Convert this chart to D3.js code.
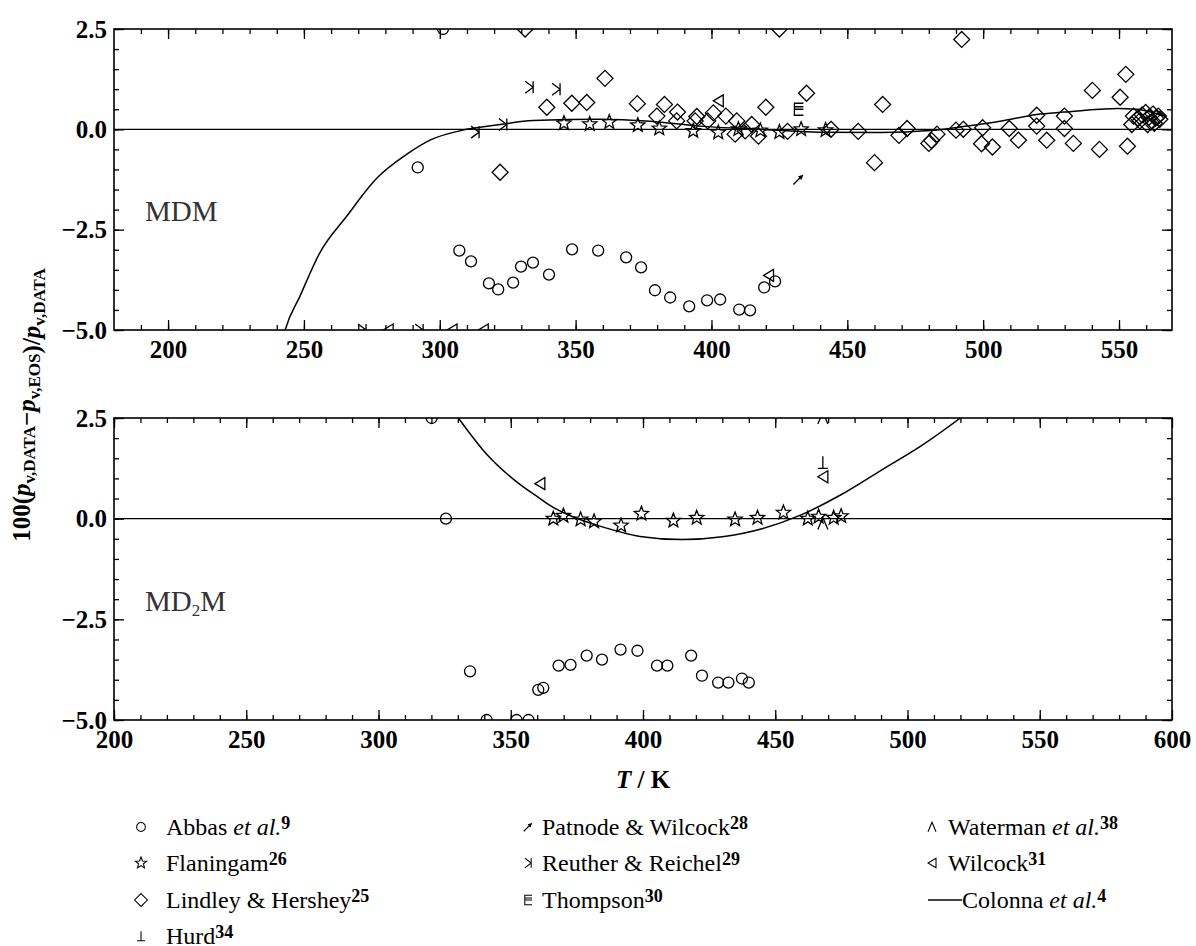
<!DOCTYPE html>
<html>
<head>
<meta charset="utf-8">
<script src="https://cdn.jsdelivr.net/npm/d3@7"></script>
<style>
  body { margin: 0; background: #fff; }
  svg { font-family: "Liberation Serif", "Times New Roman", serif; }
  .axis text { font-family: "Liberation Serif", serif; font-size: 25px; font-weight: bold; fill: #000; }
  .axis line { stroke: #000; stroke-width: 1.3; }
  .axis .domain { display: none; }
  .mk { fill: none; stroke: #000; stroke-width: 1.3; }
</style>
</head>
<body>
<svg id="chart" width="1196" height="946"></svg>
<script>
// ---------- data (T / K, 100*dp/p) ----------
// MDM panel
var mdmAbbas = [[301.2,2.5],[291.9,-0.95],[307.2,-3.02],[311.5,-3.29],[318.1,-3.84],[321.5,-3.99],
  [327,-3.82],[329.9,-3.42],[334.3,-3.32],[340.2,-3.62],[348.7,-2.99],[358.3,-3.02],[368.6,-3.19],
  [374.1,-3.44],[379.2,-4.01],[384.8,-4.19],[391.8,-4.41],[398.4,-4.26],[403.2,-4.24],[410.2,-4.49],
  [414.2,-4.51],[419.4,-3.94],[423.4,-3.79]];
var mdmFlaningam = [[345.7,0.15],[355.2,0.13],[362.4,0.18],[372.9,0.1],[380.8,0.02],[393.3,-0.04],
  [402.5,-0.08],[409.9,0],[418,-0.03],[425,-0.07],[433,0],[442,-0.02]];
var mdmLindley = [[331.4,2.5],[322.2,-1.07],[339.4,0.55],[348.6,0.65],[354.1,0.67],[360.8,1.27],
  [372.7,0.64],[382.7,0.62],[379.9,0.33],[387.5,0.43],[387.2,0.21],[394.6,0.32],[394,0.21],[398.6,0.21],
  [400.7,0.41],[405.3,0.33],[409.3,0.21],[408.7,-0.12],[412.4,-0.04],[414.8,0.12],[417.3,-0.17],
  [420,0.55],[425,2.5],[428,-0.05],[435,0.9],[444,0],[454,-0.05],[460,-0.83],[463,0.62],[469,-0.15],
  [472,0.02],[480,-0.35],[481,-0.28],[483,-0.12],[490,-0.02],
  [492.1,2.24],[492.7,0],[499.8,0.04],[499.4,-0.36],[503.4,-0.44],[509.6,0.02],[513,-0.27],
  [519.7,0.35],[519.7,0.08],[523.4,-0.27],[529.9,0.33],[529.9,0.02],[533.2,-0.35],[540.2,0.97],
  [542.8,-0.5],[550.4,0.8],[552.5,1.37],[553.1,-0.42],
  [555.3,0.33],[554.7,0.12],[557.7,0.21],[558.5,0.36],[559.8,0.42],[561,0.3],[561.8,0.18],
  [562.5,0.38],[563.5,0.28],[564.5,0.33],[563,0.15],[560.5,0.12],[557,0.28],[565,0.25]];
var mdmReuther = [[332.9,1.05],[342.8,1.0],[313,-0.07],[323.2,0.12],[271.4,-5],[292.4,-5]];
var mdmWilcock = [[402.5,0.71],[281,-5],[304.5,-5],[316,-5],[421,-3.64]];
var mdmPatnode = [[432,-1.25]];
var mdmThompson = [[432,0.5]];
var mdmColonna = [[240,-5.9],[243.1,-5],[248.6,-4.15],[255.9,-3.07],[265.8,-2.16],[276.8,-1.22],
  [287.9,-0.62],[296.4,-0.27],[309.9,0],[322.2,0.12],[334.3,0.22],[359,0.25],[377.4,0.2],
  [395.8,0.08],[417.9,0],[440,-0.07],[462,-0.08],[480.5,-0.03],[491.5,0.06],[506.2,0.2],
  [519.7,0.37],[529.8,0.43],[543,0.5],[549.2,0.52],[556.5,0.5],[563.3,0.4],[567,0.33]];

// MD2M panel
var md2mAbbas = [[320.1,2.5],[325.5,0],[334.6,-3.79],[340.9,-5],[352.2,-5],[356.7,-5],[360.4,-4.25],
  [362.3,-4.2],[368.1,-3.65],[372.6,-3.63],[378.7,-3.4],[384.5,-3.5],[391.5,-3.25],[397.9,-3.28],
  [405.3,-3.65],[409.2,-3.65],[418.2,-3.4],[422.3,-3.9],[428.4,-4.07],[432.3,-4.07],[437.4,-3.97],[440,-4.07]];
var md2mFlaningam = [[366.1,0],[369.9,0.07],[376.4,-0.02],[381.5,-0.07],[391.7,-0.17],[399.4,0.12],
  [411.5,-0.05],[420.3,0.02],[434.8,-0.02],[443.3,0.02],[453.1,0.15],[462.3,0],[466.4,0.05],
  [472.1,0.02],[474.9,0.06]];
var md2mWilcock = [[361,0.87],[468,1.04]];
var md2mHurd = [[468,1.4]];
var md2mWaterman = [[468,2.5],[468,-0.12]];
var md2mColonna = [[330.2,2.5],[340.9,1.6],[353.1,0.87],[361.1,0.5],[364.8,0.33],[373.7,0.04],
  [382.5,-0.16],[398.9,-0.44],[415,-0.52],[430,-0.45],[445,-0.25],[460,0.1],[475,0.6],[490,1.2],
  [505,1.8],[520,2.5],[526,2.8]];

var yMajor = [2.5, 0, -2.5, -5];
var topMajor = [200, 250, 300, 350, 400, 450, 500, 550];
var botMajor = [200, 250, 300, 350, 400, 450, 500, 550, 600];

// ---------- marker shapes ----------
function shape(kind) {
  switch (kind) {
    case "circle": return "M5.5,0A5.5,5.5 0 1,1 -5.5,0A5.5,5.5 0 1,1 5.5,0Z";
    case "diamond": return "M0,-8L8,0L0,8L-8,0Z";
    case "star":
      var p = [];
      for (var i = 0; i < 10; i++) {
        var r = i % 2 ? 3.2 : 7.5, a = -Math.PI / 2 + i * Math.PI / 5;
        p.push([r * Math.cos(a), r * Math.sin(a)]);
      }
      return "M" + p.join("L") + "Z";
    case "reuther": return "M-4,-6L4,0L-4,6M4,-6L4,6";
    case "wilcock": return "M5,-6L-5,0L5,6Z";
    case "thompson": return "M5,-6L-4,-6L-4,6L5,6M-4,0L5,0M-4,-2.5L5,-2.5";
    case "hurd": return "M0,-6L0,6M-5,6L5,6";
    case "waterman": return "M-5,6L0,-6L5,6";
  }
}

var svg = d3.select("#chart");

function drawPanel(top, bot, xDomain, xMajor, id) {
  var x = d3.scaleLinear().domain(xDomain).range([114, 1172]);
  var y = d3.scaleLinear().domain([-5, 2.5]).range([bot, top]);
  var g = svg.append("g");
  var xMinor = d3.range(Math.ceil(xDomain[0] / 10) * 10, xDomain[1], 10);
  var yMinor = d3.range(-5, 2.6, 0.5);

  g.append("clipPath").attr("id", id).append("rect")
    .attr("x", 114).attr("y", top).attr("width", 1058).attr("height", bot - top);

  // ticks on all four sides, pointing inward
  g.append("g").attr("class", "axis").attr("transform", "translate(0," + bot + ")")
    .call(d3.axisBottom(x).tickValues(xMinor).tickSize(-5).tickFormat(""));
  g.append("g").attr("class", "axis").attr("transform", "translate(0," + bot + ")")
    .call(d3.axisBottom(x).tickValues(xMajor).tickSize(-10).tickPadding(10).tickFormat(d3.format("d")));
  g.append("g").attr("class", "axis").attr("transform", "translate(0," + top + ")")
    .call(d3.axisTop(x).tickValues(xMinor).tickSize(-5).tickFormat(""));
  g.append("g").attr("class", "axis").attr("transform", "translate(0," + top + ")")
    .call(d3.axisTop(x).tickValues(xMajor).tickSize(-10).tickFormat(""));
  g.append("g").attr("class", "axis").attr("transform", "translate(114,0)")
    .call(d3.axisLeft(y).tickValues(yMinor).tickSize(-5).tickFormat(""));
  g.append("g").attr("class", "axis").attr("transform", "translate(114,0)")
    .call(d3.axisLeft(y).tickValues(yMajor).tickSize(-10).tickPadding(7).tickFormat(d3.format(".1f")));
  g.append("g").attr("class", "axis").attr("transform", "translate(1172,0)")
    .call(d3.axisRight(y).tickValues(yMinor).tickSize(-5).tickFormat(""));
  g.append("g").attr("class", "axis").attr("transform", "translate(1172,0)")
    .call(d3.axisRight(y).tickValues(yMajor).tickSize(-10).tickFormat(""));

  g.append("rect").attr("x", 114).attr("y", top).attr("width", 1058).attr("height", bot - top)
    .attr("fill", "none").attr("stroke", "#000").attr("stroke-width", 1.6);

  g.append("line").attr("x1", 114).attr("x2", 1172).attr("y1", y(0)).attr("y2", y(0))
    .attr("stroke", "#000").attr("stroke-width", 1.2);

  var plot = g.append("g").attr("clip-path", "url(#" + id + ")");
  return { x: x, y: y, g: g, plot: plot };
}

function markers(p, data, kind) {
  p.plot.selectAll(null).data(data).enter().append("path")
    .attr("class", "mk")
    .attr("transform", function(d) { return "translate(" + p.x(d[0]) + "," + p.y(d[1]) + ")"; })
    .attr("d", shape(kind));
}

function arrows(p, data) {
  var a = p.plot.selectAll(null).data(data).enter().append("g")
    .attr("transform", function(d) { return "translate(" + p.x(d[0]) + "," + p.y(d[1]) + ")"; });
  a.append("line").attr("x1", -5).attr("y1", 5).attr("x2", 2).attr("y2", -2)
    .attr("stroke", "#000").attr("stroke-width", 1.3);
  a.append("path").attr("d", "M5,-5L-0.5,-3L3,0.5Z").attr("fill", "#000");
}

function curve(p, data) {
  p.plot.append("path").datum(data)
    .attr("fill", "none").attr("stroke", "#000").attr("stroke-width", 1.5)
    .attr("d", d3.line().x(function(d) { return p.x(d[0]); }).y(function(d) { return p.y(d[1]); })
      .curve(d3.curveMonotoneX));
}

// ---------- top panel: MDM ----------
var pTop = drawPanel(29, 330, [180.1, 569.5], topMajor, "clipTop");
curve(pTop, mdmColonna);
markers(pTop, mdmAbbas, "circle");
markers(pTop, mdmLindley, "diamond");
markers(pTop, mdmFlaningam, "star");
markers(pTop, mdmReuther, "reuther");
markers(pTop, mdmWilcock, "wilcock");
markers(pTop, mdmThompson, "thompson");
arrows(pTop, mdmPatnode);

pTop.g.append("text").attr("x", 145).attr("y", pTop.y(0) + 92)
  .attr("font-size", 29).attr("fill", "#333").text("MDM");

// ---------- bottom panel: MD2M ----------
var pBot = drawPanel(418, 720, [200, 600], botMajor, "clipBot");
curve(pBot, md2mColonna);
markers(pBot, md2mAbbas, "circle");
markers(pBot, md2mFlaningam, "star");
markers(pBot, md2mWilcock, "wilcock");
markers(pBot, md2mHurd, "hurd");
markers(pBot, md2mWaterman, "waterman");

var lab2 = pBot.g.append("text").attr("x", 145).attr("y", pBot.y(0) + 92)
  .attr("font-size", 29).attr("fill", "#333");
lab2.append("tspan").text("MD");
lab2.append("tspan").attr("font-size", 17).attr("dy", 5).text("2");
lab2.append("tspan").attr("dy", -5).text("M");

// ---------- axis titles ----------
var yt = svg.append("text").attr("transform", "translate(30,405) rotate(-90)")
  .attr("text-anchor", "middle").attr("font-size", 25).attr("font-weight", "bold");
function pv(t, sub) {
  t.append("tspan").attr("font-style", "italic").text("p");
  t.append("tspan").attr("font-size", 17).attr("dy", 5).text(sub);
  t.append("tspan").attr("dy", -5).text("");
}
yt.append("tspan").text("100(");
pv(yt, "v,DATA");
yt.append("tspan").text("\u2212");
pv(yt, "v,EOS");
yt.append("tspan").text(")/");
pv(yt, "v,DATA");

var xt = svg.append("text").attr("x", 643).attr("y", 788).attr("text-anchor", "middle")
  .attr("font-size", 25).attr("font-weight", "bold");
xt.append("tspan").attr("font-style", "italic").text("T");
xt.append("tspan").text(" / K");

// ---------- legend ----------
var legendItems = [
  { col: 0, row: 0, kind: "circle", name: ["Abbas ", "et al.", "9"] },
  { col: 0, row: 1, kind: "star", name: ["Flaningam", "", "26"] },
  { col: 0, row: 2, kind: "diamond", name: ["Lindley & Hershey", "", "25"] },
  { col: 0, row: 3, kind: "hurd", name: ["Hurd", "", "34"] },
  { col: 1, row: 0, kind: "arrow", name: ["Patnode & Wilcock", "", "28"] },
  { col: 1, row: 1, kind: "reuther", name: ["Reuther & Reichel", "", "29"] },
  { col: 1, row: 2, kind: "thompson", name: ["Thompson", "", "30"] },
  { col: 2, row: 0, kind: "waterman", name: ["Waterman ", "et al.", "38"] },
  { col: 2, row: 1, kind: "wilcock", name: ["Wilcock", "", "31"] },
  { col: 2, row: 2, kind: "line", name: ["Colonna ", "et al.", "4"] }
];
var colSym = [141, 528, 932], colText = [166, 542, 948];
var rowY = [827, 863, 900, 936];

var leg = svg.append("g");
legendItems.forEach(function(it) {
  var cx = colSym[it.col], cy = rowY[it.row];
  if (it.kind === "line") {
    leg.append("line").attr("x1", 928).attr("x2", 962).attr("y1", cy).attr("y2", cy)
      .attr("stroke", "#000").attr("stroke-width", 1.3);
  } else if (it.kind === "arrow") {
    var a = leg.append("g").attr("transform", "translate(" + cx + "," + cy + ") scale(0.85)");
    a.append("line").attr("x1", -5).attr("y1", 5).attr("x2", 2).attr("y2", -2)
      .attr("stroke", "#000").attr("stroke-width", 1.4);
    a.append("path").attr("d", "M5,-5L-0.5,-3L3,0.5Z").attr("fill", "#000");
  } else {
    leg.append("path").attr("class", "mk")
      .attr("transform", "translate(" + cx + "," + cy + ") scale(0.8)")
      .attr("d", shape(it.kind));
  }
  var tx = it.kind === "line" ? 962 : colText[it.col];
  var t = leg.append("text").attr("x", tx).attr("y", cy + 8).attr("font-size", 24);
  t.append("tspan").text(it.name[0]);
  if (it.name[1]) t.append("tspan").attr("font-style", "italic").text(it.name[1]);
  t.append("tspan").attr("font-size", 18).attr("font-weight", "bold").attr("dy", -6).text(it.name[2]);
});
</script>
</body>
</html>
